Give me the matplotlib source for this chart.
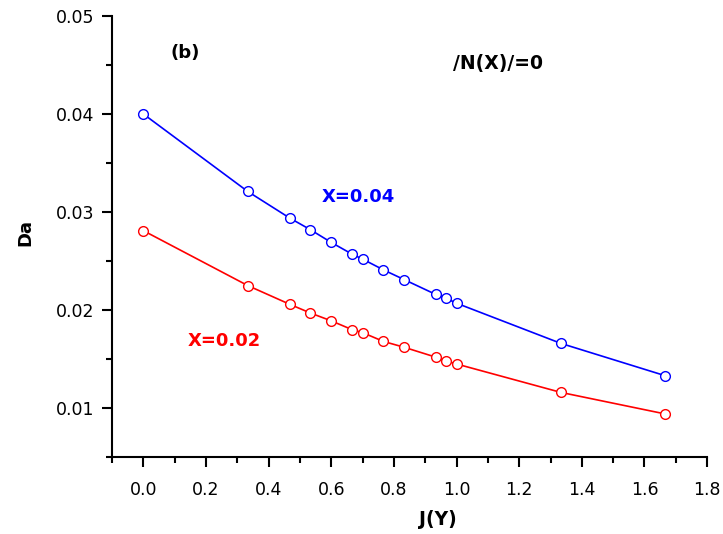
import matplotlib
matplotlib.use("Agg")
import matplotlib.pyplot as plt
from matplotlib.ticker import MultipleLocator

plt.rcParams['font.family'] = ['DejaVu Sans']

# J(Y) values (same for both curves)
j_y = [0.0, 0.3333, 0.4667, 0.5333, 0.6, 0.6667, 0.7, 0.7667, 0.8333,
       0.9333, 0.9667, 1.0, 1.3333, 1.6667]

# Da for X=0.04 and X=0.02
da_x004 = [0.0400, 0.0321, 0.0294, 0.0282, 0.0269, 0.0257, 0.0252, 0.0241,
           0.0231, 0.0216, 0.0212, 0.0207, 0.0166, 0.0133]
da_x002 = [0.0281, 0.0225, 0.0206, 0.0197, 0.0189, 0.0180, 0.0177, 0.0168,
           0.0162, 0.0152, 0.0148, 0.0145, 0.0116, 0.0094]

fig = plt.figure(figsize=(7.23, 5.34), dpi=100)
ax = fig.add_axes([0.155, 0.144, 0.823, 0.826])

ax.plot(j_y, da_x004, color='blue', lw=1.2, marker='o', ms=7,
        mfc='white', mec='blue', mew=1.0)
ax.plot(j_y, da_x002, color='red', lw=1.2, marker='o', ms=7,
        mfc='white', mec='red', mew=1.0)

ax.set_xlim(-0.1, 1.8)
ax.set_ylim(0.005, 0.05)
ax.xaxis.set_minor_locator(MultipleLocator(0.1))
ax.yaxis.set_minor_locator(MultipleLocator(0.005))
ax.set_xticks([0.0, 0.2, 0.4, 0.6, 0.8, 1.0, 1.2, 1.4, 1.6, 1.8])
ax.set_xticklabels(['0.0', '0.2', '0.4', '0.6', '0.8', '1.0', '1.2', '1.4', '1.6', '1.8'])
ax.set_yticks([0.01, 0.02, 0.03, 0.04, 0.05])
ax.set_yticklabels(['0.01', '0.02', '0.03', '0.04', '0.05'])

for s in ['top', 'right']:
    ax.spines[s].set_visible(False)
for s in ['left', 'bottom']:
    ax.spines[s].set_linewidth(1.5)

ax.tick_params(which='major', direction='out', length=7, width=1.5, labelsize=12.5, pad=6)
ax.tick_params(which='minor', direction='out', length=4, width=1.5)
ax.tick_params(axis='x', pad=10)

ax.set_xlabel('J(Y)', fontsize=13.5, fontweight='bold')
ax.xaxis.set_label_coords(0.548, -0.12)
ax.set_ylabel('Da', fontsize=13, fontweight='bold')
ax.yaxis.set_label_coords(-0.13, 0.51)

ax.text(0.134, 0.0462, '(b)', fontsize=13, fontweight='bold', ha='center', va='center')
ax.text(1.131, 0.0452, '/N(X)/=0', fontsize=13.5, fontweight='bold', ha='center', va='center')
ax.text(0.687, 0.0315, 'X=0.04', fontsize=13, fontweight='bold', color='blue', ha='center', va='center')
ax.text(0.259, 0.0168, 'X=0.02', fontsize=13, fontweight='bold', color='red', ha='center', va='center')

fig.savefig('out.png', dpi=100)
